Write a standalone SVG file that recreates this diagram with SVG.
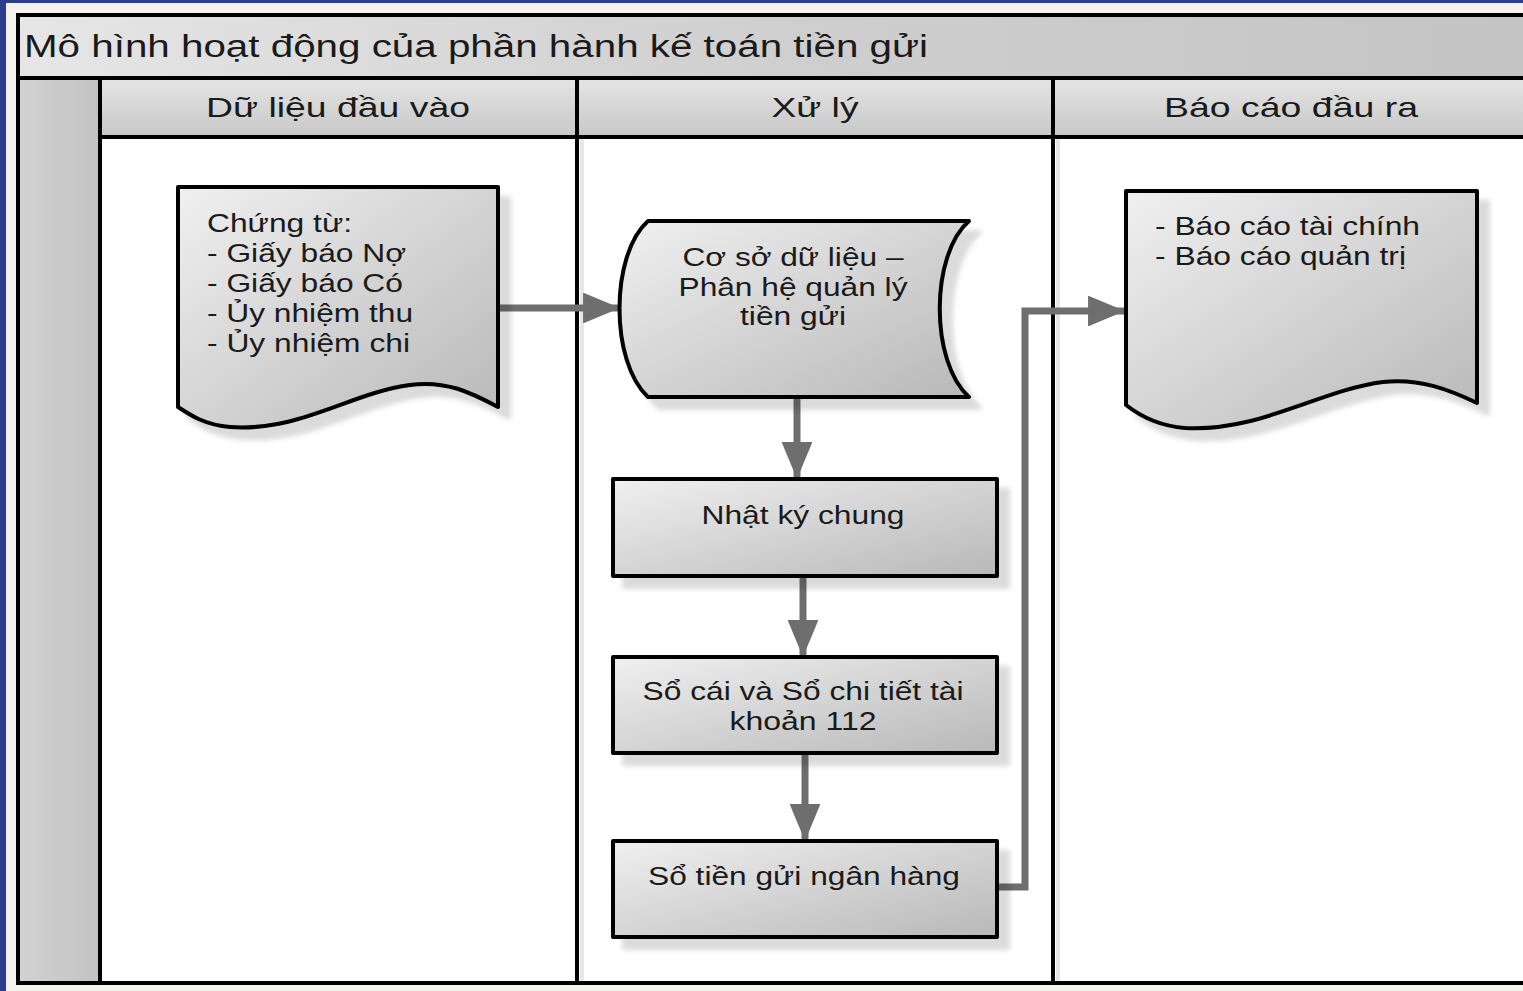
<svg xmlns="http://www.w3.org/2000/svg" width="1523" height="991" viewBox="0 0 1523 991">
<defs>
<linearGradient id="gFill" x1="0" y1="0" x2="1" y2="1">
<stop offset="0" stop-color="#f0f0f0"/><stop offset="1" stop-color="#b8b8b8"/>
</linearGradient>
<linearGradient id="gBar" x1="0" y1="0" x2="1" y2="0">
<stop offset="0" stop-color="#e6e6e6"/><stop offset="0.5" stop-color="#cfcfcf"/><stop offset="1" stop-color="#c4c4c4"/>
</linearGradient>
<linearGradient id="gHead" x1="0" y1="0" x2="0" y2="1">
<stop offset="0" stop-color="#e4e4e4"/><stop offset="1" stop-color="#c8c8c8"/>
</linearGradient>
<linearGradient id="gStrip" x1="0" y1="0" x2="1" y2="0">
<stop offset="0" stop-color="#d2d2d2"/><stop offset="1" stop-color="#c2c2c2"/>
</linearGradient>
<filter id="sh" x="-10%" y="-10%" width="130%" height="130%">
<feDropShadow dx="11" dy="11" stdDeviation="2.5" flood-color="#000" flood-opacity="0.14"/>
</filter>
<marker id="ah" viewBox="0 0 12 10" refX="12" refY="5" markerWidth="6" markerHeight="4.4" orient="auto" markerUnits="strokeWidth">
<path d="M0,0 L12,5 L0,10 Z" fill="#6e6e6e"/>
</marker>
<style>
.t{font-family:"Liberation Sans",Arial,sans-serif;fill:#1a1a1a}
.node{fill:url(#gFill);stroke:#000;stroke-width:4;stroke-linejoin:round;filter:url(#sh)}
.edge{fill:none;stroke:#6e6e6e;stroke-width:7;marker-end:url(#ah)}
.ln{stroke:#000;stroke-width:4}
</style>
</defs>
<rect x="0" y="0" width="1523" height="991" fill="#f4f3ee"/>
<rect x="0" y="0" width="1523" height="3" fill="#2b3d8c"/>
<rect x="0" y="0" width="6" height="991" fill="#2b3d8c"/>
<g id="pool">
<rect x="18" y="15" width="1520" height="968" fill="#ffffff"/>
<rect x="18" y="15" width="1520" height="63" fill="url(#gBar)"/>
<rect x="18" y="78" width="82" height="905" fill="url(#gStrip)"/>
<rect x="100" y="78" width="1438" height="59" fill="url(#gHead)"/>
<rect x="580" y="137" width="4" height="846" fill="#e6e6e6"/>
<rect x="1056" y="137" width="4" height="846" fill="#e6e6e6"/>
<line class="ln" x1="18" y1="15" x2="1523" y2="15"/>
<line class="ln" x1="18" y1="78" x2="1523" y2="78"/>
<line class="ln" x1="100" y1="137" x2="1523" y2="137"/>
<line class="ln" x1="18" y1="983" x2="1523" y2="983"/>
<line class="ln" x1="18" y1="13" x2="18" y2="985"/>
<line class="ln" x1="100" y1="78" x2="100" y2="983"/>
<line class="ln" x1="577" y1="78" x2="577" y2="983"/>
<line class="ln" x1="1053" y1="78" x2="1053" y2="983"/>
<text class="t" x="24" y="57" font-size="31" textLength="904" lengthAdjust="spacingAndGlyphs">Mô hình hoạt động của phần hành kế toán tiền gửi</text>
<text class="t" x="338" y="117" font-size="28" text-anchor="middle" textLength="264" lengthAdjust="spacingAndGlyphs">Dữ liệu đầu vào</text>
<text class="t" x="815" y="117" font-size="28" text-anchor="middle" textLength="87" lengthAdjust="spacingAndGlyphs">Xử lý</text>
<text class="t" x="1291" y="117" font-size="28" text-anchor="middle" textLength="254" lengthAdjust="spacingAndGlyphs">Báo cáo đầu ra</text>
</g>
<g id="connectors">
<path class="edge" d="M498,308 L620,308"/>
<path class="edge" d="M797,397 L797,479"/>
<path class="edge" d="M803,576 L803,657"/>
<path class="edge" d="M805,753 L805,841"/>
<path class="edge" d="M997,887 L1025,887 L1025,311 L1125,311"/>
</g>
<g id="n_chungtu">
<path class="node" d="M178,187 L498,187 L498,407 C470,392 445,380 410,385 C350,393 300,432 230,427 C205,425 190,415 178,407 Z"/>
<text class="t" font-size="25" x="207" y="232" textLength="145" lengthAdjust="spacingAndGlyphs">Chứng từ:</text>
<text class="t" font-size="25" x="207" y="262" textLength="199" lengthAdjust="spacingAndGlyphs">- Giấy báo Nợ</text>
<text class="t" font-size="25" x="207" y="292" textLength="196" lengthAdjust="spacingAndGlyphs">- Giấy báo Có</text>
<text class="t" font-size="25" x="207" y="322" textLength="206" lengthAdjust="spacingAndGlyphs">- Ủy nhiệm thu</text>
<text class="t" font-size="25" x="207" y="352" textLength="203" lengthAdjust="spacingAndGlyphs">- Ủy nhiệm chi</text>
</g>
<g id="n_csdl">
<path class="node" d="M648,221 L969,221 C930,255 930,362 969,397 L648,397 C610,362 610,255 648,221 Z"/>
<text class="t" font-size="25" x="793" y="266" text-anchor="middle" textLength="221" lengthAdjust="spacingAndGlyphs">Cơ sở dữ liệu –</text>
<text class="t" font-size="25" x="793" y="296" text-anchor="middle" textLength="229" lengthAdjust="spacingAndGlyphs">Phân hệ quản lý</text>
<text class="t" font-size="25" x="793" y="325" text-anchor="middle" textLength="106" lengthAdjust="spacingAndGlyphs">tiền gửi</text>
</g>
<g id="n_nkc">
<rect class="node" x="613" y="479" width="384" height="97"/>
<text class="t" font-size="25" x="803" y="524" text-anchor="middle" textLength="203" lengthAdjust="spacingAndGlyphs">Nhật ký chung</text>
</g>
<g id="n_socai">
<rect class="node" x="613" y="657" width="384" height="96"/>
<text class="t" font-size="25" x="803" y="700" text-anchor="middle" textLength="321" lengthAdjust="spacingAndGlyphs">Sổ cái và Sổ chi tiết tài</text>
<text class="t" font-size="25" x="803" y="730" text-anchor="middle" textLength="147" lengthAdjust="spacingAndGlyphs">khoản 112</text>
</g>
<g id="n_sotg">
<rect class="node" x="613" y="841" width="384" height="96"/>
<text class="t" font-size="25" x="804" y="885" text-anchor="middle" textLength="312" lengthAdjust="spacingAndGlyphs">Sổ tiền gửi ngân hàng</text>
</g>
<g id="n_baocao">
<path class="node" d="M1126,191 L1477,191 L1477,403 C1450,390 1420,378 1383,382 C1320,390 1260,432 1185,428 C1160,426 1140,416 1126,405 Z"/>
<text class="t" font-size="25" x="1155" y="235" textLength="265" lengthAdjust="spacingAndGlyphs">- Báo cáo tài chính</text>
<text class="t" font-size="25" x="1155" y="265" textLength="251" lengthAdjust="spacingAndGlyphs">- Báo cáo quản trị</text>
</g>
</svg>
